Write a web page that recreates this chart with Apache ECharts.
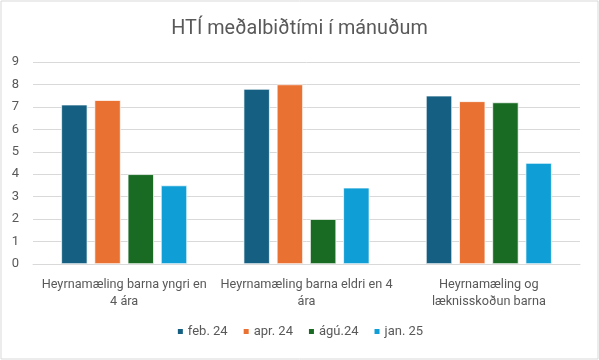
<!DOCTYPE html>
<html>
<head>
<meta charset="utf-8">
<script src="https://cdn.jsdelivr.net/npm/echarts@6/dist/echarts.min.js"></script>
<style>
html,body{margin:0;padding:0;background:#fff;}
#c{width:599px;height:360px;}
</style>
</head>
<body>
<div id="c"></div>
<script>
var title = 'HTÍ meðalbiðtími í mánuðum';
var categories = ['Heyrnamæling barna yngri en\n4 ára', 'Heyrnamæling barna eldri en 4\nára', 'Heyrnamæling og\nlæknisskoðun barna'];
var seriesNames = ['feb. 24', 'apr. 24', 'ágú.24', 'jan. 25'];
var feb24 = [7.1, 7.8, 7.5];
var apr24 = [7.3, 8.0, 7.25];
var agu24 = [4.0, 2.0, 7.2];
var jan25 = [3.5, 3.4, 4.5];
var colors = ['#156082', '#E97132', '#196B24', '#0F9ED5'];
var seriesData = [feb24, apr24, agu24, jan25];

var font = 'Roboto, "Noto Sans", sans-serif';
var chart = echarts.init(document.getElementById('c'), null, {renderer: 'canvas'});
chart.setOption({
  animation: false,
  backgroundColor: '#fff',
  title: {
    text: title, left: 'center', top: 14,
    textStyle: {fontFamily: font, fontSize: 19.8, fontWeight: 'normal', color: '#595959'}
  },
  graphic: [{
    type: 'rect', shape: {x: 1, y: 1, width: 597, height: 358},
    style: {fill: 'none', stroke: '#d9d9d9', lineWidth: 1}, silent: true, z: 100
  }],
  legend: {
    bottom: 17, left: 'center', itemWidth: 7, itemHeight: 7, itemGap: 14,
    icon: 'rect',
    textStyle: {fontFamily: font, fontSize: 13, color: '#595959', padding: [0, 0, 0, -1]},
    data: seriesNames
  },
  grid: {left: 33, right: 19, top: 62, bottom: 96, containLabel: false},
  xAxis: {
    type: 'category', data: categories,
    axisLine: {show: true, lineStyle: {color: '#d9d9d9', width: 1}},
    axisTick: {show: false},
    axisLabel: {fontFamily: font, fontSize: 12.7, color: '#595959', lineHeight: 17.5, margin: 12, interval: 0}
  },
  yAxis: {
    type: 'value', min: 0, max: 9, interval: 1,
    axisLine: {show: false}, axisTick: {show: false},
    axisLabel: {fontFamily: font, fontSize: 13, color: '#595959', margin: 14},
    splitLine: {lineStyle: {color: '#d9d9d9', width: 1}}
  },
  series: seriesNames.map(function (n, i) {
    return {
      name: n, type: 'bar', data: seriesData[i],
      barGap: '27%', barCategoryGap: '31%',
      itemStyle: {color: colors[i], borderColor: '#ffffff', borderWidth: 0.7}
    };
  })
});
</script>
</body>
</html>
